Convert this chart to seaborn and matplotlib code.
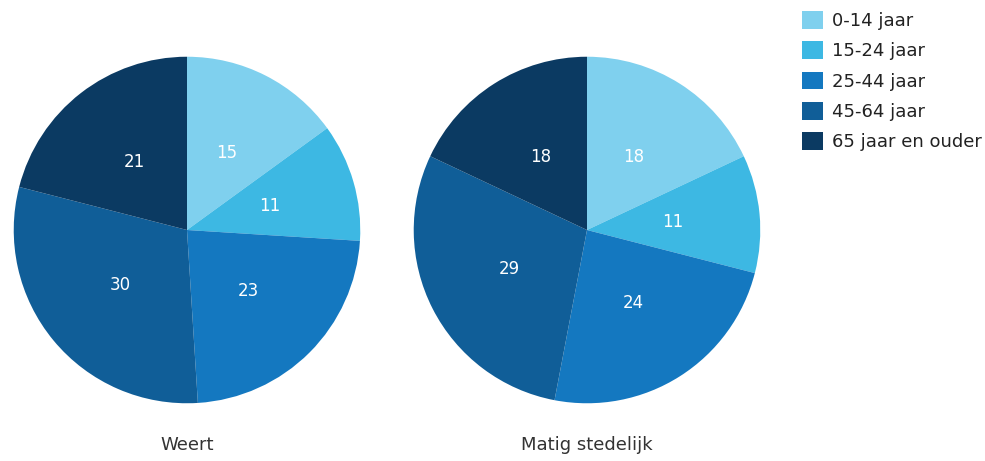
import matplotlib
matplotlib.use("Agg")
import matplotlib.pyplot as plt
import seaborn as sns
from matplotlib.patches import Patch

sns.set_theme(style="white")
plt.rcParams['font.family'] = ['DejaVu Sans']

age_groups = ['0-14 jaar', '15-24 jaar', '25-44 jaar', '45-64 jaar', '65 jaar en ouder']
weert = [15, 11, 23, 30, 21]
matig_stedelijk = [18, 11, 24, 29, 18]
regions = ['Weert', 'Matig stedelijk']
colors = sns.color_palette(['#7fd0ee', '#3db8e3', '#1478c0', '#105e98', '#0b3a62'])

fig = plt.figure(figsize=(9.85, 4.61), dpi=100)
ax1 = fig.add_axes([12 / 985, 56 / 461, 350 / 985, 350 / 461])
ax2 = fig.add_axes([412 / 985, 56 / 461, 350 / 985, 350 / 461])

for ax, vals, name in zip([ax1, ax2], [weert, matig_stedelijk], regions):
    wedges, texts = ax.pie(vals, colors=colors, startangle=90, counterclock=False,
                           labels=[str(v) for v in vals], labeldistance=0.5,
                           textprops=dict(color='white', fontsize=12, ha='center', va='center'),
                           wedgeprops=dict(linewidth=0))
    ax.set_aspect('equal')
    ax.text(0, -1.24, name, ha='center', va='center', fontsize=13, color='#333333')
    ax.set_xlim(-1.01, 1.01)
    ax.set_ylim(-1.01, 1.01)

handles = [Patch(facecolor=c, edgecolor='none') for c in colors]
fig.legend(handles, age_groups, loc='upper left', bbox_to_anchor=(802 / 985, 1 - 11 / 461),
           frameon=False, fontsize=13, handlelength=1.15, handleheight=1.15,
           labelspacing=0.62, handletextpad=0.5, borderpad=0, borderaxespad=0,
           labelcolor='#222222')

fig.savefig('out.png', dpi=100)
